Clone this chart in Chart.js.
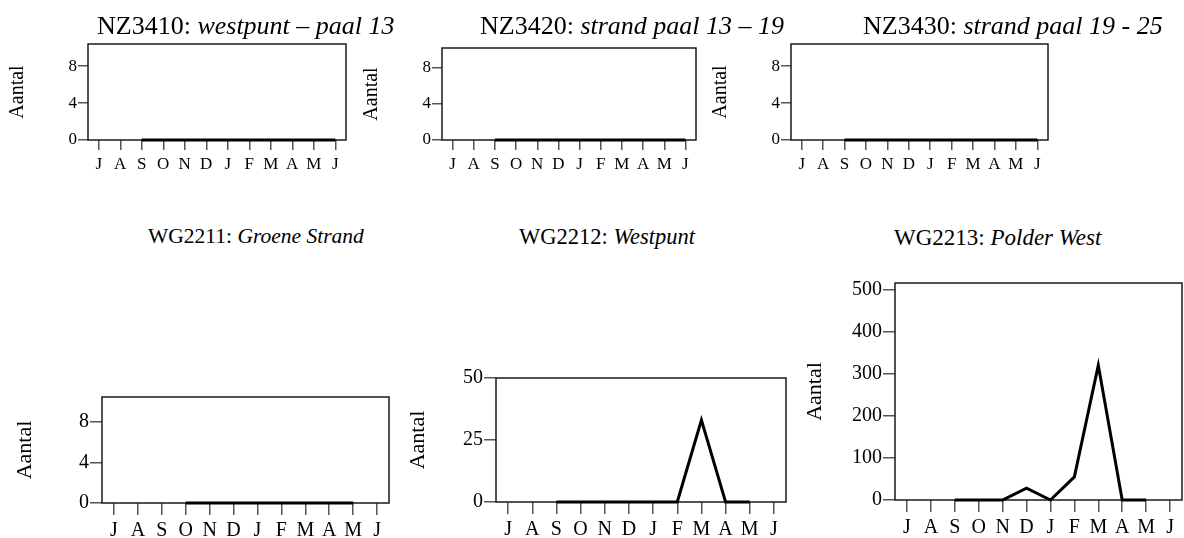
<!DOCTYPE html>
<html>
<head>
<meta charset="utf-8">
<script src="https://cdn.jsdelivr.net/npm/chart.js@4.4.1/dist/chart.umd.min.js"></script>
<style>
  html, body { margin: 0; padding: 0; background: #fff; }
  body { width: 1184px; height: 538px; position: relative; overflow: hidden; font-family: "Liberation Serif", Tinos, "Times New Roman", serif; color: #000; }
  canvas { position: absolute; }
  .title { position: absolute; white-space: nowrap; line-height: 1; z-index: 2; }
</style>
</head>
<body>
<script>
// months of the season, July through June
let months = ['J', 'A', 'S', 'O', 'N', 'D', 'J', 'F', 'M', 'A', 'M', 'J']

// monthly counts per counting area (null = not counted)
let nz3410 = [null, null, 0, 0, 0, 0, 0, 0, 0, 0, 0, 0]
let nz3420 = [null, null, 0, 0, 0, 0, 0, 0, 0, 0, 0, 0]
let nz3430 = [null, null, 0, 0, 0, 0, 0, 0, 0, 0, 0, 0]
let wg2211 = [null, null, null, 0, 0, 0, 0, 0, 0, 0, 0, null]
let wg2212 = [null, null, 0, 0, 0, 0, 0, 0, 33, 0, 0, null]
let wg2213 = [null, null, 0, 0, 0, 28, 0, 55, 321, 0, 0, null]

let codes = ['NZ3410:', 'NZ3420:', 'NZ3430:', 'WG2211:', 'WG2212:', 'WG2213:']
let names = ['westpunt – paal 13', 'strand paal 13 – 19', 'strand paal 19 - 25', 'Groene Strand', 'Westpunt', 'Polder West']
let yMax = [10.4, 10.2, 10.4, 10.5, 50, 517]
let ySteps = [4, 4, 4, 4, 25, 100]
let series = [nz3410, nz3420, nz3430, wg2211, wg2212, wg2213]

// text and tick sizes for the small top row and the larger bottom row
let rows = [
    {tick: 17, tickLen: 10, pad: 4, axisTitle: 20, xHeight: 42},
    {tick: 20, tickLen: 12, pad: 4, axisTitle: 22, xHeight: 48}
]

// plot box (l, t, r, b), x of the axis title, title position and size
let panels = [
    {row: 0, box: [88, 44, 346, 140], ax: 18, title: [97, 13, 26]},
    {row: 0, box: [442, 48, 696, 140], ax: 372, title: [480, 13, 26]},
    {row: 0, box: [791, 44, 1048, 140], ax: 721, title: [863, 13, 26]},
    {row: 1, box: [102, 397, 389, 503], ax: 25, title: [148, 226, 21.5]},
    {row: 1, box: [496, 378, 786, 502], ax: 418, title: [519, 226, 22.5]},
    {row: 1, box: [895, 283, 1182, 500], ax: 815, title: [894, 226, 23]}
]

let serif = '"Liberation Serif", Tinos, "Times New Roman", serif'

// closed frame around the plot area
let framePlugin = {
    id: 'frame',
    beforeDatasetsDraw(chart) {
        let a = chart.chartArea
        let c = chart.ctx
        c.save()
        c.strokeStyle = '#1a1a1a'
        c.lineWidth = 1.5
        c.strokeRect(a.left, a.top, a.right - a.left, a.bottom - a.top)
        c.restore()
    }
}

panels.forEach(function(p, i) {
    let [l, t, r, b] = p.box
    let row = rows[p.row]
    let left = p.ax - Math.round(row.axisTitle * 0.6)
    let top = t - 14
    let canvas = document.createElement('canvas')
    canvas.width = r + 2 - left
    canvas.height = Math.min(538, b + row.xHeight) - top
    canvas.style.left = left + 'px'
    canvas.style.top = top + 'px'
    document.body.appendChild(canvas)

    let title = document.createElement('div')
    title.className = 'title'
    title.style.left = p.title[0] + 'px'
    title.style.top = p.title[1] + 'px'
    title.style.fontSize = p.title[2] + 'px'
    title.innerHTML = codes[i] + ' <i>' + names[i] + '</i>'
    document.body.appendChild(title)

    new Chart(canvas.getContext('2d'), {
        type: 'line',
        data: {
            labels: months,
            datasets: [{
                data: series[i],
                borderColor: '#000',
                borderWidth: 3,
                pointRadius: 0,
                tension: 0,
                spanGaps: false,
                clip: false
            }]
        },
        options: {
            responsive: false,
            animation: false,
            events: [],
            layout: {padding: {top: 14, right: 2, left: 0, bottom: 0}},
            plugins: {legend: {display: false}, tooltip: {enabled: false}},
            scales: {
                x: {
                    type: 'category',
                    offset: true,
                    border: {display: false},
                    grid: {drawOnChartArea: false, drawTicks: true, tickLength: row.tickLen, color: '#555', lineWidth: 1.5},
                    ticks: {autoSkip: false, maxRotation: 0, padding: row.pad, color: '#000', font: {family: serif, size: row.tick}},
                    afterFit(scale) { scale.height = canvas.height - 14 - (b - t) }
                },
                y: {
                    min: 0,
                    max: yMax[i],
                    border: {display: false},
                    grid: {drawOnChartArea: false, drawTicks: true, tickLength: row.tickLen, color: '#555', lineWidth: 1.5},
                    ticks: {stepSize: ySteps[i], includeBounds: false, padding: 1, color: '#000', font: {family: serif, size: row.tick}},
                    title: {display: true, text: 'Aantal', color: '#000', padding: 0, font: {family: serif, size: row.axisTitle}},
                    afterFit(scale) { scale.width = l - left }
                }
            }
        },
        plugins: [framePlugin]
    })
})
</script>
</body>
</html>
